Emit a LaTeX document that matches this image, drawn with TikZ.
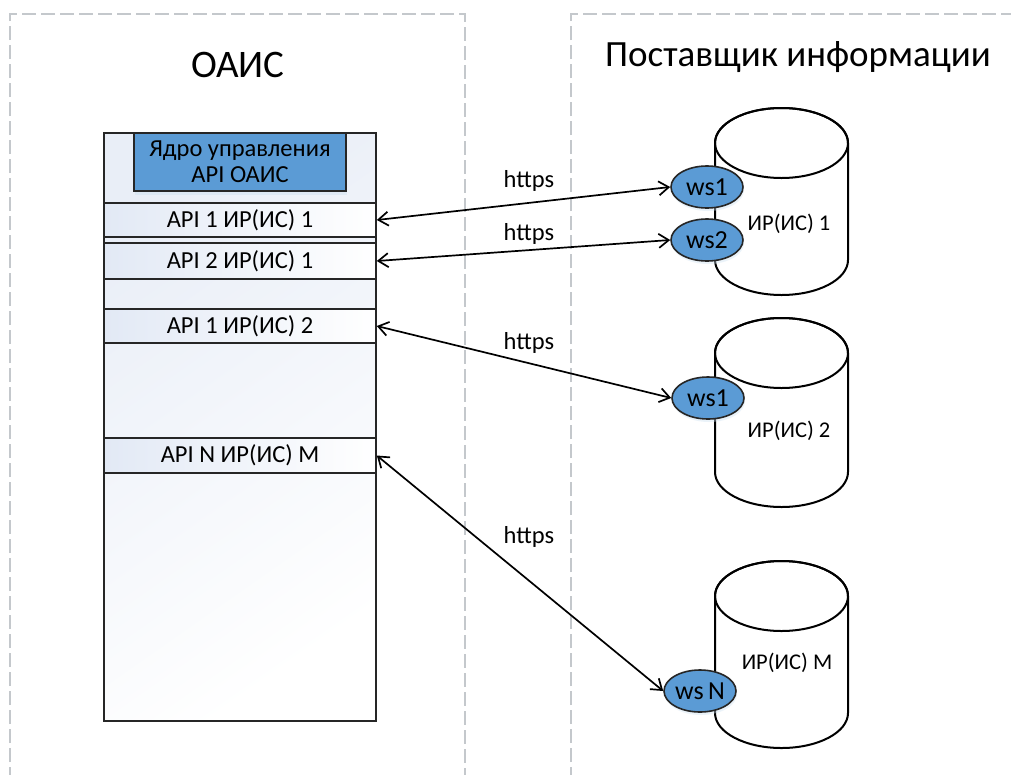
\documentclass[tikz,border=0pt]{standalone}
\usepackage{fontspec}
\setmainfont{Carlito}
\usetikzlibrary{arrows.meta,shadows,shapes.geometric}
\definecolor{wsblue}{HTML}{5B9BD5}
\definecolor{edge}{HTML}{262626}
\definecolor{panelgray}{HTML}{C4C8CC}
\definecolor{rowblue}{HTML}{E2E9F5}
\definecolor{colblue}{HTML}{E9EEF7}
\tikzset{
  panel/.style={draw=panelgray, line width=1.4pt, dash pattern=on 14pt off 5pt},
  apirow/.style={draw=edge, line width=1.6pt, minimum width=272pt, inner sep=0pt,
     left color=rowblue, right color=white, font=\fontsize{24.5}{28}\selectfont},
  core/.style={draw=edge, line width=1.6pt, fill=wsblue, minimum width=212pt, minimum height=58pt,
     inner sep=0pt, align=center, font=\fontsize{24.5}{26}\selectfont,
     drop shadow={fill=wsblue!30!white, opacity=0.45, shadow xshift=1pt, shadow yshift=-4pt}},
  ws/.style={ellipse, draw=edge, line width=1.6pt, fill=wsblue, inner sep=0pt,
     minimum width=72pt, minimum height=42pt, font=\fontsize{26}{28}\selectfont,
     drop shadow={fill=wsblue!30!white, opacity=0.4, shadow xshift=1pt, shadow yshift=-3pt}},
  link/.style={line width=1.7pt, {Straight Barb[length=10pt,width=14pt]}-{Straight Barb[length=10pt,width=14pt]}},
  lbl/.style={font=\fontsize{24.5}{28}\selectfont, inner sep=0pt},
  cyllbl/.style={font=\fontsize{22.5}{26}\selectfont, inner sep=0pt},
  title/.style={font=\fontsize{37}{42}\selectfont, inner sep=0pt},
  cyl/.style={draw=black, line width=2pt, fill=white},
}
\newcommand{\drawcyl}[2]{% #1 top y, #2 bottom y (positive pixel values)
  \path[cyl] (715,-#1-35) -- (715,-#2+35) arc[start angle=180,end angle=360,x radius=66.5,y radius=35]
     -- (848,-#1-35) arc[start angle=0,end angle=180,x radius=66.5,y radius=35] -- cycle;
  \draw[line width=2pt] (781.5,-#1-35) ellipse[x radius=66.5,y radius=35];
}
\begin{document}
\begin{tikzpicture}[x=1pt,y=1pt]
\useasboundingbox (0,0) rectangle (1011,-774);
\clip (0,0) rectangle (1011,-774);
\fill[white] (0,0) rectangle (1011,-774);
% panels
\draw[panel] (10,-800) -- (10,-14) -- (465,-14) -- (465,-800);
\draw[panel] (571,-800) -- (571,-14) -- (1030,-14);
\node[title, font=\fontsize{39}{44}\selectfont] (t1) at (238,-65) {ОАИС};
\node[title] (t2) at (798,-57) {Поставщик информации};
% OAIS column
\node[draw=edge, line width=1.6pt, minimum width=272pt, minimum height=588pt, inner sep=0pt,
      top color=colblue, middle color=white, bottom color=white, shading angle=35] (oais) at (240,-427) {};
\node[core] (core) at (240,-162) {Ядро управления\\API ОАИС};
\node[apirow, minimum height=34pt] (r1) at (240,-220) {API 1 ИР(ИС) 1};
\node[apirow, minimum height=36pt] (r2) at (240,-261) {API 2 ИР(ИС) 1};
\node[apirow, minimum height=34pt] (r3) at (240,-326) {API 1 ИР(ИС) 2};
\node[apirow, minimum height=35pt] (rn) at (240,-455.5) {API N ИР(ИС) M};
% cylinders
\drawcyl{108}{295}
\drawcyl{318}{507}
\drawcyl{561}{748}
\node[cyllbl] (c1) at (789,-224) {ИР(ИС) 1};
\node[cyllbl] (c2) at (789,-431) {ИР(ИС) 2};
\node[cyllbl] (cm) at (787,-663) {ИР(ИС) M};
% web services
\node[ws] (ws1) at (707,-187) {ws1};
\node[ws] (ws2) at (707,-240) {ws2};
\node[ws] (ws3) at (708,-398) {ws1};
\node[ws] (wsn) at (700,-691) {ws\,N};
% links
\draw[link] (r1.east) -- (ws1.west);
\draw[link] (r2.east) -- (ws2.west);
\draw[link] (r3.east) -- (ws3.west);
\draw[link] (rn.east) -- (wsn.west);
\node[lbl] (h1) at (529,-181) {https};
\node[lbl] (h2) at (529,-234) {https};
\node[lbl] (h3) at (529,-343) {https};
\node[lbl] (h4) at (529,-537) {https};
\end{tikzpicture}
\end{document}
